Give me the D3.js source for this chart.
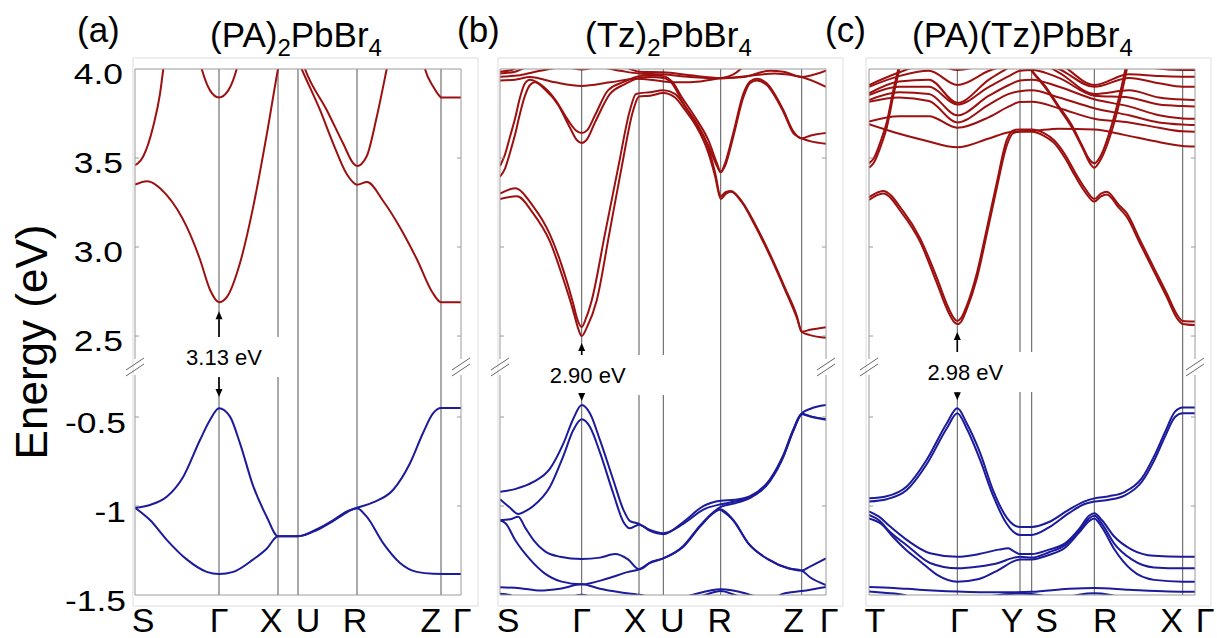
<!DOCTYPE html>
<html>
<head>
<meta charset="utf-8">
<script src="https://d3js.org/d3.v7.min.js"></script>
<style>
  body { margin: 0; background: #fff; }
  text { font-family: "Liberation Sans", Arial, Helvetica, sans-serif; }
</style>
</head>
<body>
<div id="grafico"></div>
<script>
// ---- dati: percorso k e bande (k, E in eV) ----

// (a) (PA)2PbBr4
const kTicksA = [0, 0.84, 1.43, 1.63, 2.22, 3.06, 3.26];
const kNamesA = ["S", "Γ", "X", "U", "R", "Z", "Γ"];
const condA = [
  [[0,3.35],[0.12,3.37],[0.32,3.29],[0.52,3.11],[0.65,2.93],[0.75,2.76],[0.84,2.69],[0.92,2.72],[1.05,2.91],[1.18,3.22],[1.32,3.64],[1.43,4.0],[1.5,4.2]],
  [[1.6,4.09],[1.667,4.0],[1.85,3.77],[1.983,3.58],[2.117,3.41],[2.22,3.35],[2.32,3.365],[2.48,3.26],[2.65,3.11],[2.82,2.93],[2.98,2.74],[3.06,2.69],[3.26,2.69]],
  [[1.63,4.12],[1.70,4.0],[1.917,3.77],[2.083,3.58],[2.183,3.47],[2.22,3.455],[2.317,3.51],[2.417,3.73],[2.517,4.0],[2.56,4.12]],
  [[0,3.46],[0.03,3.47],[0.083,3.51],[0.183,3.68],[0.25,3.86],[0.283,4.0],[0.31,4.12]],
  [[0.62,4.1],[0.667,4.0],[0.75,3.88],[0.84,3.84],[0.933,3.88],[1.017,4.0],[1.06,4.1]],
  [[2.86,4.1],[2.9,4.0],[2.983,3.9],[3.05,3.845],[3.06,3.84],[3.26,3.84]]
];
const valA = [
  [[0,-1.01],[0.15,-0.994],[0.317,-0.948],[0.483,-0.835],[0.65,-0.629],[0.75,-0.517],[0.84,-0.451],[0.95,-0.498],[1.05,-0.648],[1.183,-0.89],[1.317,-1.06],[1.43,-1.17],[1.63,-1.17],[1.82,-1.13],[1.98,-1.08],[2.12,-1.03],[2.22,-1.01],[2.38,-0.98],[2.58,-0.91],[2.75,-0.76],[2.88,-0.59],[2.98,-0.48],[3.06,-0.45],[3.26,-0.45]],
  [[0,-1.01],[0.15,-1.079],[0.317,-1.19],[0.517,-1.30],[0.717,-1.37],[0.84,-1.382],[0.983,-1.37],[1.183,-1.30],[1.317,-1.24],[1.43,-1.17],[1.63,-1.17],[1.82,-1.135],[1.98,-1.085],[2.12,-1.035],[2.22,-1.012],[2.317,-1.06],[2.483,-1.21],[2.65,-1.32],[2.817,-1.37],[2.983,-1.38],[3.26,-1.382]]
];

// (b) (Tz)2PbBr4
const kTicksB = [0, 0.817, 1.39, 1.633, 2.207, 3.017, 3.26];
const kNamesB = ["S", "Γ", "X", "U", "R", "Z", "Γ"];
const condB = [
  [[0,3.27],[0.17,3.285],[0.33,3.19],[0.5,3.03],[0.633,2.82],[0.733,2.64],[0.783,2.54],[0.817,2.50],[0.87,2.55],[0.967,2.70],[1.093,3.075],[1.217,3.45],[1.333,3.77],[1.39,3.845],[1.5,3.85],[1.633,3.865],[1.75,3.84],[1.85,3.77],[1.95,3.69],[2.083,3.53],[2.15,3.40],[2.207,3.27],[2.26,3.30],[2.31,3.31],[2.42,3.25],[2.55,3.12],[2.7,2.95],[2.85,2.76],[2.97,2.60],[3.017,2.524],[3.1,2.505],[3.26,2.49]],
  [[0,3.30],[0.15,3.33],[0.33,3.23],[0.5,3.07],[0.633,2.87],[0.733,2.68],[0.77,2.60],[0.817,2.55],[0.86,2.60],[0.917,2.70],[1.05,3.075],[1.183,3.45],[1.30,3.77],[1.36,3.86],[1.5,3.87],[1.633,3.88],[1.75,3.86],[1.85,3.79],[1.95,3.71],[2.083,3.56],[2.15,3.42],[2.207,3.285],[2.26,3.31],[2.31,3.315],[2.42,3.255],[2.55,3.13],[2.7,2.96],[2.85,2.77],[2.97,2.61],[3.017,2.524],[3.1,2.535],[3.26,2.55]],
  [[0,3.455],[0.05,3.52],[0.1,3.62],[0.15,3.72],[0.2,3.84],[0.25,3.92],[0.3,3.94],[0.4,3.915],[0.55,3.83],[0.683,3.71],[0.76,3.655],[0.817,3.64],[0.87,3.655],[0.95,3.74],[1.08,3.88],[1.25,3.93],[1.39,3.96],[1.5,3.965],[1.633,3.96],[1.72,3.93],[1.82,3.84],[1.95,3.73],[2.083,3.60],[2.17,3.47],[2.207,3.42],[2.25,3.47],[2.333,3.64],[2.433,3.86],[2.5,3.93],[2.57,3.945],[2.667,3.92],[2.833,3.77],[2.933,3.65],[3.017,3.61],[3.1,3.625],[3.26,3.64]],
  [[0,3.395],[0.05,3.44],[0.1,3.53],[0.15,3.63],[0.2,3.75],[0.25,3.85],[0.3,3.91],[0.35,3.925],[0.45,3.885],[0.58,3.80],[0.7,3.67],[0.77,3.60],[0.817,3.585],[0.87,3.605],[0.95,3.70],[1.1,3.86],[1.25,3.915],[1.39,3.95],[1.5,3.955],[1.633,3.95],[1.72,3.92],[1.82,3.82],[1.95,3.70],[2.083,3.57],[2.17,3.455],[2.207,3.42],[2.25,3.455],[2.333,3.62],[2.433,3.84],[2.5,3.92],[2.57,3.935],[2.667,3.91],[2.833,3.76],[2.933,3.64],[3.017,3.61],[3.1,3.595],[3.26,3.58]],
  [[0,3.935],[0.15,3.94],[0.3,3.955],[0.55,3.925],[0.817,3.905],[1.1,3.925],[1.367,3.945],[1.5,3.94],[1.633,3.93],[1.8,3.925],[2.0,3.93],[2.207,3.948],[2.433,3.955],[2.7,3.99],[2.833,3.985],[3.017,3.955],[3.26,3.99]],
  [[0,3.957],[0.2,3.965],[0.4,3.99],[0.65,4.01],[0.817,3.997],[0.98,4.01],[1.2,3.99],[1.39,3.975],[1.633,3.97],[1.9,3.955],[2.207,3.948],[2.5,3.962],[2.75,3.975],[3.017,3.955],[3.26,3.90]],
  [[0,3.975],[0.15,3.985],[0.3,4.02],[0.5,4.06],[1.1,4.06],[1.3,4.0],[1.39,3.985],[1.633,3.982],[1.9,3.965],[2.207,3.95],[2.35,3.975],[2.45,4.02],[2.6,4.06]],
  [[0,3.985],[0.12,3.995],[0.25,4.03],[0.4,4.08]]
];
const valB = [
  [[0,-0.92],[0.15,-0.905],[0.333,-0.865],[0.5,-0.79],[0.633,-0.65],[0.733,-0.51],[0.817,-0.433],[0.9,-0.48],[1.0,-0.63],[1.133,-0.854],[1.233,-1.02],[1.3,-1.085],[1.39,-1.10],[1.5,-1.135],[1.633,-1.153],[1.833,-1.10],[2.033,-1.02],[2.207,-0.99],[2.35,-0.975],[2.5,-0.95],[2.7,-0.855],[2.833,-0.72],[2.933,-0.575],[3.017,-0.48],[3.1,-0.455],[3.26,-0.433]],
  [[0,-0.962],[0.1,-1.01],[0.183,-1.045],[0.25,-1.03],[0.333,-1.00],[0.5,-0.892],[0.633,-0.72],[0.733,-0.573],[0.817,-0.513],[0.9,-0.556],[1.0,-0.70],[1.133,-0.93],[1.233,-1.088],[1.3,-1.125],[1.39,-1.105],[1.5,-1.14],[1.633,-1.158],[1.833,-1.09],[2.033,-1.00],[2.207,-0.97],[2.35,-0.965],[2.5,-0.945],[2.7,-0.85],[2.833,-0.715],[2.933,-0.57],[3.017,-0.482],[3.1,-0.495],[3.26,-0.513]],
  [[0,-1.08],[0.1,-1.075],[0.183,-1.06],[0.25,-1.12],[0.333,-1.19],[0.45,-1.255],[0.6,-1.285],[0.817,-1.298],[1.0,-1.29],[1.15,-1.27],[1.28,-1.30],[1.39,-1.356],[1.5,-1.32],[1.633,-1.294],[1.833,-1.229],[2.0,-1.116],[2.133,-1.04],[2.207,-1.02],[2.333,-1.08],[2.483,-1.21],[2.683,-1.30],[2.883,-1.35],[3.017,-1.363],[3.1,-1.34],[3.26,-1.294]],
  [[0,-1.08],[0.06,-1.10],[0.15,-1.19],[0.3,-1.30],[0.45,-1.38],[0.617,-1.425],[0.817,-1.44],[1.083,-1.406],[1.283,-1.37],[1.39,-1.356],[1.517,-1.313],[1.633,-1.294],[1.833,-1.225],[2.0,-1.11],[2.133,-1.035],[2.207,-1.005],[2.35,-0.985],[2.5,-0.955],[2.7,-0.86],[2.833,-0.725],[2.933,-0.578],[3.017,-0.485],[3.1,-0.497],[3.26,-0.515]],
  [[2.207,-1.02],[2.333,-1.08],[2.483,-1.21],[2.683,-1.30],[2.883,-1.35],[3.017,-1.363],[3.1,-1.40],[3.26,-1.444]],
  [[0,-1.457],[0.2,-1.462],[0.4,-1.475],[0.6,-1.465],[0.817,-1.44],[1.0,-1.465],[1.2,-1.485],[1.39,-1.5],[1.5,-1.53]],
  [[0,-1.493],[0.1,-1.5],[0.2,-1.53]],
  [[0.65,-1.53],[0.75,-1.505],[0.817,-1.499],[0.88,-1.505],[0.98,-1.53]],
  [[1.25,-1.53],[1.36,-1.502],[1.39,-1.499],[1.45,-1.505],[1.55,-1.53]],
  [[1.75,-1.53],[1.95,-1.495],[2.207,-1.468],[2.45,-1.49],[2.65,-1.53]],
  [[1.9,-1.53],[2.05,-1.5],[2.207,-1.478],[2.35,-1.5],[2.5,-1.53]],
  [[2.7,-1.53],[2.85,-1.49],[3.017,-1.478],[3.26,-1.455]]
];

// (c) (PA)(Tz)PbBr4
const kTicksC = [0, 0.883, 1.51, 1.627, 2.253, 3.137, 3.26];
const kNamesC = ["T", "Γ", "Y", "S", "R", "X", "Γ"];
const condC = [
  [[0,3.265],[0.14,3.30],[0.343,3.18],[0.51,3.03],[0.677,2.80],[0.793,2.635],[0.85,2.58],[0.883,2.567],[0.92,2.58],[0.977,2.65],[1.077,2.82],[1.177,3.07],[1.277,3.33],[1.377,3.57],[1.443,3.64],[1.51,3.648],[1.627,3.648],[1.75,3.625],[1.85,3.585],[1.96,3.50],[2.06,3.40],[2.16,3.31],[2.253,3.255],[2.32,3.285],[2.377,3.295],[2.5,3.22],[2.577,3.17],[2.71,3.02],[2.843,2.87],[2.977,2.72],[3.08,2.60],[3.137,2.568],[3.26,2.562]],
  [[0,3.28],[0.14,3.315],[0.343,3.20],[0.51,3.05],[0.677,2.83],[0.793,2.66],[0.85,2.60],[0.883,2.585],[0.92,2.60],[0.977,2.67],[1.077,2.85],[1.177,3.10],[1.277,3.36],[1.377,3.60],[1.443,3.655],[1.51,3.66],[1.627,3.66],[1.75,3.64],[1.85,3.60],[1.96,3.52],[2.06,3.42],[2.16,3.33],[2.253,3.27],[2.32,3.30],[2.377,3.31],[2.5,3.235],[2.577,3.19],[2.71,3.04],[2.843,2.89],[2.977,2.74],[3.08,2.62],[3.137,2.585],[3.26,2.582]],
  [[0,3.47],[0.05,3.50],[0.12,3.60],[0.177,3.70],[0.243,3.88],[0.293,4.0],[0.33,4.1],[1.45,4.1],[1.58,4.02],[1.627,3.99],[1.76,3.905],[1.893,3.795],[2.027,3.685],[2.127,3.575],[2.2,3.495],[2.253,3.47],[2.31,3.505],[2.427,3.685],[2.527,3.905],[2.56,3.99],[2.6,4.1]],
  [[0,3.445],[0.05,3.475],[0.12,3.57],[0.177,3.67],[0.243,3.85],[0.303,4.0],[0.34,4.1],[1.46,4.1],[1.59,4.02],[1.64,3.98],[1.77,3.89],[1.9,3.78],[2.04,3.66],[2.14,3.55],[2.21,3.47],[2.253,3.445],[2.3,3.475],[2.437,3.67],[2.537,3.89],[2.575,3.99],[2.61,4.1]],
  [[0,3.69],[0.25,3.645],[0.55,3.60],[0.883,3.56],[1.2,3.61],[1.4,3.645],[1.51,3.65],[1.627,3.652],[1.9,3.665],[2.253,3.66],[2.55,3.63],[2.85,3.595],[3.137,3.568],[3.26,3.565]],
  [[0,3.705],[0.3,3.735],[0.6,3.735],[0.883,3.67],[1.2,3.73],[1.4,3.79],[1.51,3.815],[1.627,3.816],[1.9,3.78],[2.253,3.72],[2.6,3.70],[2.9,3.67],[3.137,3.65],[3.26,3.648]],
  [[0,3.816],[0.3,3.84],[0.6,3.82],[0.883,3.70],[1.2,3.80],[1.4,3.86],[1.51,3.875],[1.627,3.88],[1.9,3.84],[2.253,3.78],[2.6,3.74],[2.9,3.70],[3.137,3.688],[3.26,3.685]],
  [[0,3.826],[0.3,3.87],[0.6,3.86],[0.883,3.74],[1.2,3.85],[1.4,3.91],[1.51,3.935],[1.627,3.94],[1.9,3.90],[2.253,3.83],[2.6,3.79],[2.9,3.74],[3.137,3.722],[3.26,3.72]],
  [[0,3.854],[0.3,3.90],[0.6,3.90],[0.883,3.80],[1.2,3.90],[1.4,3.96],[1.51,3.99],[1.627,3.995],[1.9,3.95],[2.253,3.85],[2.6,3.84],[2.9,3.80],[3.137,3.792],[3.26,3.79]],
  [[0,3.863],[0.3,3.93],[0.6,3.94],[0.883,3.81],[1.2,3.94],[1.4,4.01],[1.51,4.05],[1.627,4.05],[1.9,3.98],[2.253,3.86],[2.6,3.88],[2.9,3.84],[3.137,3.828],[3.26,3.826]],
  [[0,3.90],[0.3,3.96],[0.6,3.99],[0.883,3.91],[1.2,3.99],[1.4,4.03],[1.51,4.06],[1.627,4.05],[1.9,4.0],[2.253,3.90],[2.6,3.95],[2.9,3.92],[3.137,3.90],[3.26,3.90]],
  [[0,3.91],[0.3,3.98],[0.6,4.03],[0.883,3.995],[1.2,4.03],[1.5,4.08],[1.9,4.03],[2.253,3.91],[2.6,3.97],[2.9,3.96],[3.137,3.957],[3.26,3.957]],
  [[2.55,4.06],[2.85,4.005],[3.137,3.994],[3.26,3.994]]
];
const valC = [
  [[0,-0.957],[0.177,-0.945],[0.377,-0.89],[0.577,-0.74],[0.777,-0.536],[0.883,-0.451],[0.977,-0.535],[1.11,-0.70],[1.243,-0.915],[1.377,-1.065],[1.443,-1.105],[1.51,-1.118],[1.627,-1.118],[1.8,-1.09],[2.0,-1.02],[2.15,-0.975],[2.253,-0.957],[2.4,-0.945],[2.56,-0.92],[2.727,-0.845],[2.86,-0.71],[2.96,-0.585],[3.06,-0.47],[3.137,-0.446],[3.26,-0.446]],
  [[0,-0.975],[0.177,-0.962],[0.377,-0.91],[0.577,-0.765],[0.777,-0.565],[0.883,-0.479],[0.977,-0.565],[1.11,-0.74],[1.243,-0.945],[1.377,-1.10],[1.443,-1.145],[1.51,-1.163],[1.627,-1.163],[1.8,-1.12],[2.0,-1.04],[2.15,-0.99],[2.253,-0.975],[2.4,-0.965],[2.56,-0.94],[2.727,-0.865],[2.86,-0.735],[2.96,-0.61],[3.06,-0.50],[3.137,-0.479],[3.26,-0.479]],
  [[0,-1.03],[0.1,-1.06],[0.2,-1.11],[0.377,-1.19],[0.61,-1.265],[0.883,-1.285],[1.1,-1.27],[1.3,-1.245],[1.393,-1.238],[1.45,-1.255],[1.51,-1.27],[1.627,-1.27],[1.8,-1.245],[1.96,-1.21],[2.1,-1.13],[2.2,-1.055],[2.253,-1.04],[2.33,-1.08],[2.45,-1.17],[2.627,-1.245],[2.85,-1.28],[3.137,-1.285],[3.26,-1.285]],
  [[0,-1.05],[0.1,-1.08],[0.2,-1.14],[0.377,-1.22],[0.61,-1.32],[0.883,-1.35],[1.1,-1.34],[1.293,-1.32],[1.45,-1.29],[1.51,-1.285],[1.627,-1.29],[1.8,-1.26],[1.96,-1.22],[2.1,-1.14],[2.2,-1.07],[2.253,-1.055],[2.33,-1.10],[2.45,-1.21],[2.627,-1.30],[2.85,-1.345],[3.137,-1.35],[3.26,-1.35]],
  [[0,-1.07],[0.12,-1.10],[0.25,-1.18],[0.377,-1.25],[0.51,-1.31],[0.677,-1.385],[0.883,-1.425],[1.1,-1.41],[1.293,-1.36],[1.45,-1.31],[1.51,-1.30],[1.627,-1.30],[1.8,-1.275],[1.96,-1.235],[2.1,-1.15],[2.2,-1.085],[2.253,-1.07],[2.33,-1.12],[2.45,-1.24],[2.627,-1.36],[2.85,-1.415],[3.137,-1.425],[3.26,-1.425]],
  [[0,-1.455],[0.25,-1.46],[0.5,-1.47],[0.883,-1.48],[1.3,-1.485],[1.627,-1.482],[2.0,-1.465],[2.253,-1.46],[2.6,-1.47],[3.0,-1.48],[3.26,-1.482]],
  [[0,-1.48],[0.15,-1.488],[0.35,-1.50],[0.45,-1.53]],
  [[1.0,-1.53],[1.3,-1.50],[1.51,-1.492],[1.7,-1.50],[1.9,-1.53]],
  [[1.9,-1.53],[2.1,-1.498],[2.253,-1.49],[2.4,-1.498],[2.6,-1.53]]
];

// assi e annotazioni
const upperTicks = [4.0, 3.5, 3.0, 2.5];
const upperTickLabels = ["4.0", "3.5", "3.0", "2.5"];
const lowerTicks = [-0.5, -1, -1.5];
const lowerTickLabels = ["-0.5", "-1", "-1.5"];
const panelTags = ["(a)", "(b)", "(c)"];
const panelTitles = [
  [["(PA)", 0], ["2", 1], ["PbBr", 0], ["4", 1]],
  [["(Tz)", 0], ["2", 1], ["PbBr", 0], ["4", 1]],
  [["(PA)(Tz)PbBr", 0], ["4", 1]]
];
const gapLabels = ["3.13 eV", "2.90 eV", "2.98 eV"];
const cbmE = [2.69, 2.50, 2.567];
const vbmE = [-0.45, -0.433, -0.451];

// ---- layout ----
const W = 1217, H = 638;
const panelLeft = [135, 500, 869];
const plotW = 326;
const plotTop = 69, breakY = 367, plotBottom = 595;
const outerFrames = [[133, 478], [498, 843], [866, 1211]];
const outerTop = 58, outerBottom = 606;
const tagX = [77, 457, 825];
const titleX = [210, 585, 912];
const labelNudge = [[8, 0, -7, 10, -2, -10, 1], [8, 0, -4, 9, -1, -8, 3], [6, 2, -8, 15, 11, -11, 10]];
const boxTop = [337, 355, 352];
const boxRight = [70, 88, 83];
const textShift = [5, 6, 8];
const arrowGapUp = [9, 7, 8];
const arrowGapDown = [11, 4, 8];

const redBand = "#9c1010";
const blueBand = "#1b1b9b";

const panels = [
  { kTicks: kTicksA, kNames: kNamesA, cond: condA, val: valA },
  { kTicks: kTicksB, kNames: kNamesB, cond: condB, val: valB },
  { kTicks: kTicksC, kNames: kNamesC, cond: condC, val: valC }
];

// scale verticali con asse spezzato
const yUp = d3.scaleLinear().domain([2.326, 4.0]).range([breakY, plotTop]);
const yLo = d3.scaleLinear().domain([-1.5, -0.219]).range([plotBottom, breakY]);

const svg = d3.select("#grafico")
  .append("svg")
  .attr("width", W)
  .attr("height", H);
const defs = svg.append("defs");

function arrow(g, x0, yTail, yTip) {
  const dir = yTip < yTail ? -1 : 1;
  const head = 8;
  const yBase = yTip - dir * head;
  if ((yBase - yTail) * dir > 0) {
    g.append("line")
      .attr("x1", x0).attr("x2", x0)
      .attr("y1", yTail).attr("y2", yBase)
      .attr("stroke", "#000")
      .attr("stroke-width", 1.6);
  }
  g.append("path")
    .attr("d", `M${x0 - 3.5},${yBase}L${x0 + 3.5},${yBase}L${x0},${yTip}Z`)
    .attr("fill", "#000");
}

panels.forEach((p, i) => {
  const left = panelLeft[i];
  const right = left + plotW;
  const x = d3.scaleLinear()
    .domain([0, p.kTicks[p.kTicks.length - 1]])
    .range([left, right]);
  const g = svg.append("g");

  // cornice chiara esterna
  g.append("rect")
    .attr("x", outerFrames[i][0])
    .attr("y", outerTop)
    .attr("width", outerFrames[i][1] - outerFrames[i][0])
    .attr("height", outerBottom - outerTop)
    .attr("fill", "none")
    .attr("stroke", "#dedede");

  // clip per le due metà
  defs.append("clipPath").attr("id", `clipUp${i}`)
    .append("rect")
    .attr("x", left).attr("y", plotTop)
    .attr("width", plotW).attr("height", breakY - plotTop);
  defs.append("clipPath").attr("id", `clipLo${i}`)
    .append("rect")
    .attr("x", left).attr("y", breakY)
    .attr("width", plotW).attr("height", plotBottom - breakY);

  // linee dei punti ad alta simmetria
  p.kTicks.slice(1, -1).forEach(k => {
    g.append("line")
      .attr("x1", x(k)).attr("x2", x(k))
      .attr("y1", plotTop).attr("y2", plotBottom)
      .attr("stroke", "#555")
      .attr("stroke-width", 1);
  });

  // bande
  const lineUp = d3.line().x(d => x(d[0])).y(d => yUp(d[1])).curve(d3.curveMonotoneX);
  const lineLo = d3.line().x(d => x(d[0])).y(d => yLo(d[1])).curve(d3.curveMonotoneX);

  g.append("g")
    .attr("clip-path", `url(#clipUp${i})`)
    .selectAll("path")
    .data(p.cond)
    .join("path")
    .attr("d", d => lineUp(d))
    .attr("fill", "none")
    .attr("stroke", redBand)
    .attr("stroke-width", 2);

  g.append("g")
    .attr("clip-path", `url(#clipLo${i})`)
    .selectAll("path")
    .data(p.val)
    .join("path")
    .attr("d", d => lineLo(d))
    .attr("fill", "none")
    .attr("stroke", blueBand)
    .attr("stroke-width", 2);

  // cornice del grafico (spezzata)
  const frameColor = "#9a9a9a";
  [[left, left, plotTop, breakY - 8], [left, left, breakY + 8, plotBottom],
   [right, right, plotTop, breakY - 8], [right, right, breakY + 8, plotBottom],
   [left, right, plotTop, plotTop], [left, right, plotBottom, plotBottom]].forEach(s => {
    g.append("line")
      .attr("x1", s[0]).attr("x2", s[1])
      .attr("y1", s[2]).attr("y2", s[3])
      .attr("stroke", frameColor)
      .attr("stroke-width", 1);
  });

  // tacche interne
  const tickYs = upperTicks.slice(1).map(v => yUp(v)).concat(lowerTicks.slice(0, -1).map(v => yLo(v)));
  tickYs.forEach(ty => {
    g.append("line").attr("x1", left).attr("x2", left + 4).attr("y1", ty).attr("y2", ty)
      .attr("stroke", frameColor);
    g.append("line").attr("x1", right - 4).attr("x2", right).attr("y1", ty).attr("y2", ty)
      .attr("stroke", frameColor);
  });

  // segni di interruzione
  [left, right].forEach(x0 => {
    [-3, 3].forEach(d => {
      g.append("line")
        .attr("x1", x0 - 9).attr("y1", breakY + 6 + d)
        .attr("x2", x0 + 9).attr("y2", breakY - 6 + d)
        .attr("stroke", "#666")
        .attr("stroke-width", 1);
    });
  });

  // annotazione del gap
  const gx = x(p.kTicks[1]);
  const bt = boxTop[i];
  g.append("rect")
    .attr("x", gx - 45).attr("y", bt)
    .attr("width", 45 + boxRight[i]).attr("height", 40)
    .attr("fill", "#fff");
  g.append("text")
    .attr("x", gx + textShift[i])
    .attr("y", bt + 28)
    .attr("text-anchor", "middle")
    .style("font-size", "22px")
    .text(gapLabels[i]);
  arrow(g, gx, bt, yUp(cbmE[i]) + arrowGapUp[i]);
  arrow(g, gx, bt + 40, yLo(vbmE[i]) - arrowGapDown[i]);

  // etichette dei punti k
  p.kNames.forEach((name, j) => {
    g.append("text")
      .attr("x", x(p.kTicks[j]) + labelNudge[i][j])
      .attr("y", 632)
      .attr("text-anchor", "middle")
      .style("font-size", "34px")
      .text(name);
  });

  // titolo con pedici
  g.append("text")
    .attr("x", tagX[i]).attr("y", 42)
    .style("font-size", "35px")
    .text(panelTags[i]);
  const title = g.append("text")
    .attr("x", titleX[i]).attr("y", 47)
    .style("font-size", "35px");
  let shifted = 0;
  panelTitles[i].forEach(seg => {
    const want = seg[1] ? 9 : 0;
    title.append("tspan")
      .attr("dy", want - shifted)
      .style("font-size", seg[1] ? "24px" : "35px")
      .text(seg[0]);
    shifted = want;
  });
});

// etichette asse y (solo pannello a)
const tickG = svg.append("g");
upperTicks.forEach((v, j) => {
  tickG.append("text")
    .attr("transform", `translate(123,${yUp(v) + 4}) scale(1.18,1)`)
    .attr("text-anchor", "end")
    .attr("dy", "0.35em")
    .style("font-size", "30px")
    .text(upperTickLabels[j]);
});
lowerTicks.forEach((v, j) => {
  tickG.append("text")
    .attr("transform", `translate(126,${yLo(v) + 5}) scale(1.18,1)`)
    .attr("text-anchor", "end")
    .attr("dy", "0.35em")
    .style("font-size", "30px")
    .text(lowerTickLabels[j]);
});

svg.append("text")
  .attr("transform", "translate(47,342) rotate(-90)")
  .attr("text-anchor", "middle")
  .style("font-size", "44px")
  .text("Energy (eV)");
</script>
</body>
</html>
